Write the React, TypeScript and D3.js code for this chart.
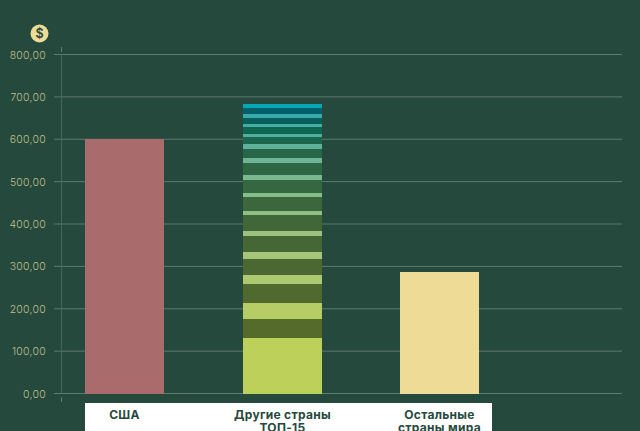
import React from "react";
import * as d3 from "d3";

const categories = ["США", "Другие страны", "Остальные"];
const categoryLines = [["США"], ["Другие страны", "ТОП-15"], ["Остальные", "страны мира"]];
const yTicks = [0, 100, 200, 300, 400, 500, 600, 700, 800];
const usaValue = 600;
const restValue = 287;

// Stacked shares of the middle column, bottom to top.
const stackValues = [
  131.2, 44.8, 37.8, 44.8, 21.2, 37.8, 16.5, 37.8, 11.8, 37.8, 9.4, 33, 9.4, 30.7,
  11.8, 28.3, 11.8, 21.2, 11.8, 16.5, 7.1, 16.5, 7.1, 14.2, 9.4, 14.2, 9.4,
];
const stackColors = [
  "#bcd05a", "#546b2b", "#b6cd66", "#4f692f", "#acc970", "#4b6732", "#a5c678", "#466735",
  "#9bc27f", "#416738", "#8fc085", "#3c673c", "#85bd8b", "#356740", "#79b98f", "#2f6745",
  "#6fb595", "#266748", "#60b19a", "#1b664c", "#50aea0", "#0e6550", "#45ada5", "#065f58",
  "#38aaab", "#00606a", "#0ba6b5",
];

const BG = "#26493d";
const GRID = "#5d7b6f";
const AXIS = "#466559";
const TICK_TEXT = "#bdbf8a";
const FONT = "Inter, 'Open Sans', sans-serif";

export default function App() {
  const y = d3.scaleLinear().domain([0, 800]).range([393.5, 54.5]);
  const x = d3
    .scaleBand<string>()
    .domain(categories)
    .range([45.625, 518.125])
    .paddingInner(0.5)
    .paddingOuter(0.25);
  const barX = (c: string) => Math.round(x(c)! + 0.01);
  const bw = Math.round(x.bandwidth());
  const tickFmt = (v: number) => d3.format(".2f")(v).replace(".", ",");

  let acc = 0;
  const segments = stackValues.map((v, i) => {
    const s = { y0: acc, y1: acc + v, color: stackColors[i] };
    acc += v;
    return s;
  });

  return (
    <svg
      width={640}
      height={431}
      style={{ position: "absolute", left: 0, top: 0, display: "block", background: BG, fontFamily: FONT }}
    >
      {yTicks.map((t) => (
        <g key={t}>
          <line x1={54} x2={622} y1={y(t)} y2={y(t)} stroke={GRID} strokeWidth={1} />
          <text x={46} y={y(t) + 4} textAnchor="end" fontSize={10.5} fontWeight={300} letterSpacing={0.25} fill={TICK_TEXT}>
            {tickFmt(t)}
          </text>
        </g>
      ))}
      <line x1={61.5} x2={61.5} y1={y(800)} y2={y(0)} stroke={AXIS} strokeWidth={1} />
      <line x1={61.5} x2={61.5} y1={47} y2={52} stroke={GRID} strokeWidth={1} />
      <line x1={61.5} x2={61.5} y1={397} y2={402} stroke={GRID} strokeWidth={1} />

      <g shapeRendering="crispEdges">
        <rect x={barX(categories[0])} width={bw} y={y(usaValue)} height={y(0) - y(usaValue)} fill="#a96b6b" />
        {segments.map((s, i) => (
          <rect
            key={i}
            x={barX(categories[1])}
            width={bw}
            y={y(s.y1)}
            height={y(s.y0) - y(s.y1)}
            fill={s.color}
          />
        ))}
        <rect x={barX(categories[2])} width={bw} y={y(restValue)} height={y(0) - y(restValue)} fill="#eedc96" />
      </g>

      <circle cx={39.5} cy={33.5} r={9} fill="#eedc96" />
      <text x={39.5} y={38} textAnchor="middle" fontSize={12.5} fontWeight={600} fill={BG}>
        $
      </text>

      <rect x={85} y={403} width={407} height={28} fill="#ffffff" />
      {categories.map((c, i) => (
        <text key={c} textAnchor="middle" fontSize={12} fontWeight={700} letterSpacing={0.3} fill={BG}>
          {categoryLines[i].map((line, j) => (
            <tspan key={j} x={barX(c) + bw / 2} y={418.5 + j * 13}>
              {line}
            </tspan>
          ))}
        </text>
      ))}
    </svg>
  );
}
